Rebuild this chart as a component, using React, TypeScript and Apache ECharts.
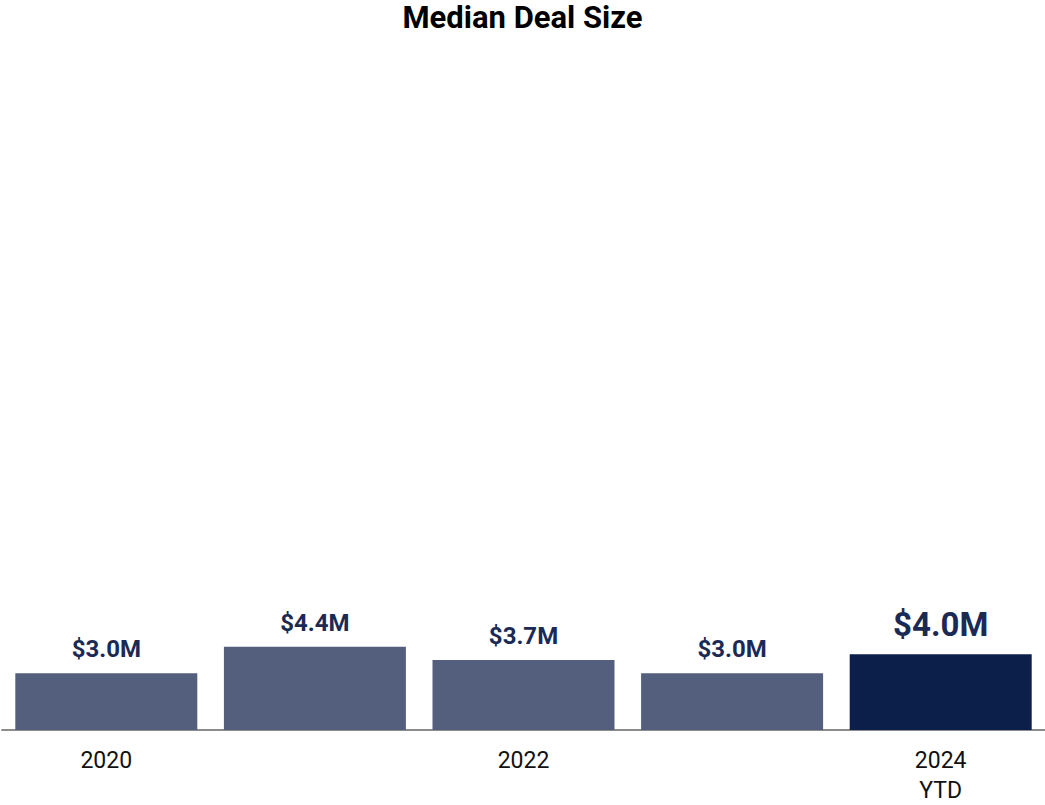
import React, { useEffect, useRef } from "react";
import * as echarts from "echarts";

const categories = ["2020", "2021", "2022", "2023", "2024\nYTD"];
const values = [3.0, 4.4, 3.7, 3.0, 4.0];
const valueLabels = ["$3.0M", "$4.4M", "$3.7M", "$3.0M", "$4.0M"];
const barColors = ["#535f7d", "#535f7d", "#535f7d", "#535f7d", "#0c1f4a"];
const highlightIndex = 4;

export default function App() {
  const ref = useRef<HTMLDivElement>(null);
  useEffect(() => {
    if (!ref.current) return;
    const chart = echarts.init(ref.current, undefined, { renderer: "svg" });
    chart.setOption({
      animation: false,
      title: {
        text: "Median Deal Size",
        left: "center",
        top: 2,
        padding: 0,
        textStyle: { fontFamily: "Roboto", fontWeight: "bold", fontSize: 31, color: "#000" },
      },
      grid: { left: 2, right: 0, top: 67, bottom: 67, containLabel: false },
      xAxis: {
        type: "category",
        data: categories,
        axisLine: { lineStyle: { color: "#8c8c8c", width: 2 } },
        axisTick: { show: false },
        axisLabel: {
          interval: 1,
          margin: 15,
          fontFamily: "Roboto",
          fontSize: 23,
          lineHeight: 30,
          color: "#111",
        },
      },
      yAxis: {
        type: "value",
        min: 0,
        max: 35,
        show: false,
        splitLine: { show: false },
      },
      series: [
        {
          type: "bar",
          barWidth: 182,
          data: values.map((v, i) => ({
            value: v,
            itemStyle: { color: barColors[i] },
            label: {
              show: true,
              position: "top",
              distance: i === highlightIndex ? 13 : 12,
              formatter: valueLabels[i],
              fontFamily: "Roboto",
              fontWeight: "bold",
              fontSize: i === highlightIndex ? 33 : 24,
              color: "#1b2a55",
            },
          })),
        },
      ],
    });
    return () => chart.dispose();
  }, []);
  return <div ref={ref} style={{ width: 1045, height: 805, position: "absolute", left: 0, top: 0 }} />;
}
